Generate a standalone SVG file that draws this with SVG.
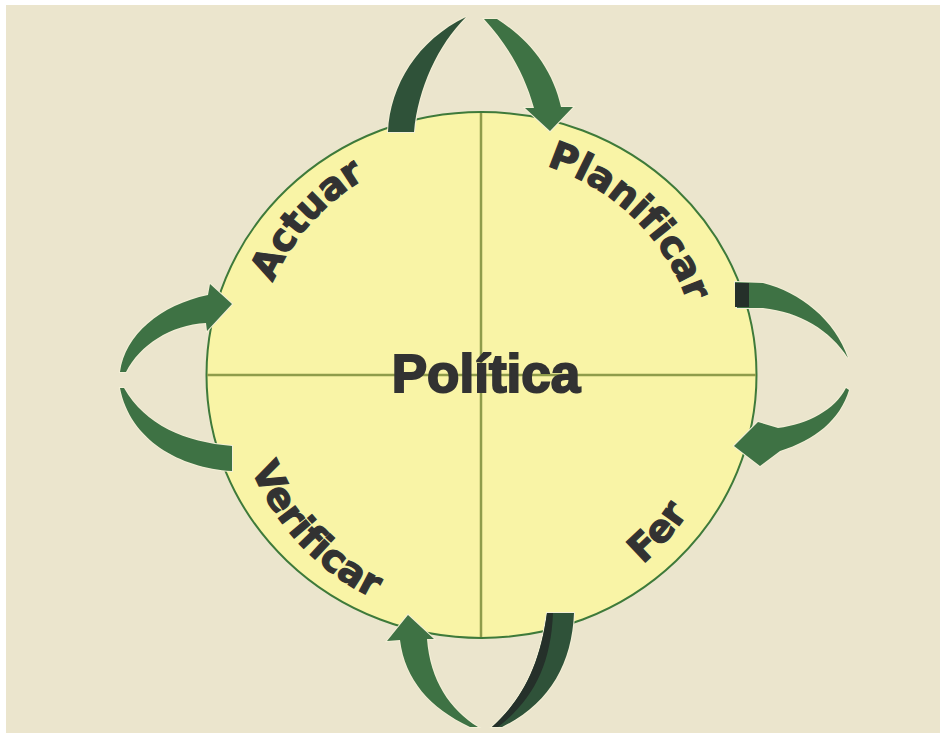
<svg xmlns="http://www.w3.org/2000/svg" width="946" height="739" viewBox="0 0 946 739">
<style>
.lbl{font-family:"DejaVu Sans","Liberation Sans",sans-serif;font-weight:bold;font-size:38px;fill:#323232;stroke:#323232;stroke-width:1.2;font-variant-ligatures:none;font-feature-settings:"liga" 0}
.title{font-family:"Liberation Sans",Arial,sans-serif;font-weight:bold;font-size:53px;fill:#323232;stroke:#323232;stroke-width:2}
.arrow{fill:#3e7244;stroke:#f3efd6;stroke-width:2;paint-order:stroke}
.dark{fill:#2f5239}
.shade{fill:#25302a}
.quad{stroke:#8f9c4a;stroke-width:2.5;fill:none}
</style>
<defs>
<path id="pPlan" d="M481,156 A219,219 0 1 1 481,594 A219,219 0 1 1 481,156"/>
<path id="pAct" d="M481,147 A228,228 0 1 1 481,603 A228,228 0 1 1 481,147"/>
<path id="pVer" d="M233,375 A248,248 0 0 0 729,375"/>
<path id="pFer" d="M232,375 A249,249 0 0 0 730,375"/>
</defs>
<rect x="0" y="0" width="946" height="739" fill="#ffffff"/>
<rect x="6" y="5" width="934" height="728" fill="#ebe5cd"/>
<g id="cycle">
<ellipse cx="481.5" cy="375" rx="275" ry="263" fill="#f9f4a6" stroke="#3e7a3a" stroke-width="2"/>
<line class="quad" x1="481" y1="113" x2="481" y2="637"/>
<line class="quad" x1="207" y1="375" x2="756" y2="375"/>
</g>
<g id="politica">
<text class="title" x="486" y="392" text-anchor="middle">Política</text>
</g>
<g id="planificar">
<text class="lbl" text-anchor="middle"><textPath href="#pPlan" startOffset="168">Planificar</textPath></text>
</g>
<g id="fer">
<text class="lbl" text-anchor="middle"><textPath href="#pFer" startOffset="601">Fer</textPath></text>
</g>
<g id="verificar">
<text class="lbl" text-anchor="middle"><textPath href="#pVer" startOffset="187">Verificar</textPath></text>
</g>
<g id="actuar">
<text class="lbl" text-anchor="middle"><textPath href="#pAct" startOffset="1240">Actuar</textPath></text>
</g>
<g id="connectors">
<path class="arrow dark" d="M388,132 C390,85 418,40 466,17 C438,45 418,88 414,132 Z"/>
<path class="arrow" d="M484,19 L497,19 C530,40 553,70 561,107 L573,107 L550,131 L525,108 L534,108 C525,75 508,45 484,19 Z"/>
<path class="arrow" d="M735,282 L763,283 C800,292 835,320 848,358 C830,330 800,312 763,308 L737,308 Z"/>
<rect class="shade" x="735" y="283" width="14" height="24"/>
<path class="arrow" d="M846,388 C835,410 808,424 778,428 L758,422 L734,446 L760,466 L780,451 C815,440 840,420 849,390 Z"/>
<path class="arrow dark" d="M547,613 L574,613 C572,665 548,705 502,727 L492,727 C522,700 540,665 547,613 Z"/>
<path class="shade" d="M547,613 L553,613 C551,665 533,700 498,727 L492,727 C522,700 540,665 547,613 Z"/>
<path class="arrow" d="M408,615 L434,639 L427,639 C430,680 450,710 478,727 L470,727 C430,708 405,680 400,640 L387,641 Z"/>
<path class="arrow" d="M120,388 C130,440 180,468 232,471 L232,446 C185,442 145,425 124,388 Z"/>
<path class="arrow" d="M120,372 C125,335 160,305 208,295 L210,284 L232,304 L207,331 L206,323 C170,325 140,345 126,372 Z"/>
</g>
</svg>
